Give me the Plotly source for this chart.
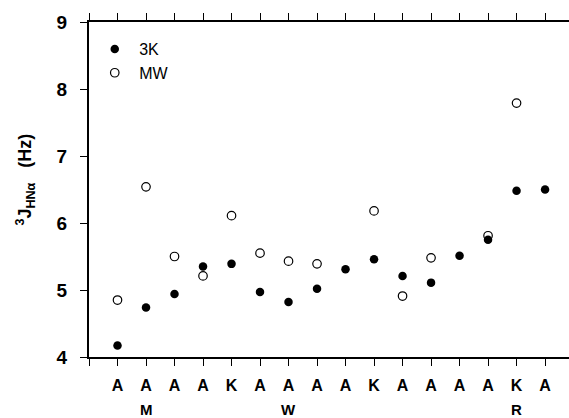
import plotly.graph_objects as go

residues = ["A", "A", "A", "A", "K", "A", "A", "A", "A", "K", "A", "A", "A", "A", "K", "A"]
positions = list(range(1, 17))
j_3k = [4.17, 4.74, 4.94, 5.35, 5.39, 4.97, 4.82, 5.02, 5.31, 5.46, 5.21, 5.11, 5.51, 5.75, 6.48, 6.50]
j_mw = [4.85, 6.54, 5.50, 5.21, 6.11, 5.55, 5.43, 5.39, None, 6.18, 4.91, 5.48, None, 5.81, 7.79, None]
group_labels = ["M", "W", "R"]
group_pos = [2, 7, 15]
y_ticks = [4, 5, 6, 7, 8, 9]

FONT = "Liberation Sans, Arial, sans-serif"

fig = go.Figure()
fig.add_trace(go.Scatter(
    x=positions, y=j_3k, mode="markers", name=" 3K",
    marker=dict(symbol="circle", size=8.5, color="black", line=dict(width=0)),
))
fig.add_trace(go.Scatter(
    x=positions, y=j_mw, mode="markers", name=" MW",
    marker=dict(symbol="circle-open", size=8.5, color="black", line=dict(width=1.2)),
))

for lab, p in zip(group_labels, group_pos):
    fig.add_annotation(x=p, xref="x", y=-0.158, yref="paper", text=lab, showarrow=False,
                       xanchor="center", yanchor="middle",
                       font=dict(family=FONT, size=15, color="black", weight="bold"))

fig.add_annotation(x=-0.133, xref="paper", y=0.53, yref="paper",
                   text="<sup>3</sup>J<sub>HNα</sub>   (Hz)", textangle=-90, showarrow=False,
                   xanchor="center", yanchor="middle",
                   font=dict(family=FONT, size=18, color="black", weight="bold"))

fig.update_layout(
    width=569, height=418,
    margin=dict(l=89, r=0, t=22, b=61),
    paper_bgcolor="white", plot_bgcolor="white",
    showlegend=True,
    legend=dict(x=0.012, y=0.97, xanchor="left", yanchor="top", bgcolor="rgba(0,0,0,0)",
                font=dict(family=FONT, size=16, color="black"), tracegroupgap=0,
                itemsizing="trace"),
    xaxis=dict(
        range=[0, 16.84], tickmode="array", tickvals=[0] + positions, ticktext=[""] + residues,
        ticks="outside", ticklen=7, tickwidth=1, tickcolor="black",
        showline=True, linecolor="black", linewidth=2, mirror="ticks",
        showgrid=False, zeroline=False, ticklabelstandoff=6,
        tickfont=dict(family=FONT, size=16, color="black", weight="bold"),
    ),
    yaxis=dict(
        range=[4, 9], tickmode="array", tickvals=y_ticks,
        ticks="outside", ticklen=7, tickwidth=1, tickcolor="black",
        showline=True, linecolor="black", linewidth=2, mirror=False,
        showgrid=False, zeroline=False, ticklabelstandoff=9,
        tickfont=dict(family=FONT, size=19, color="black", weight="bold"),
    ),
)

fig.write_html("out.html")
